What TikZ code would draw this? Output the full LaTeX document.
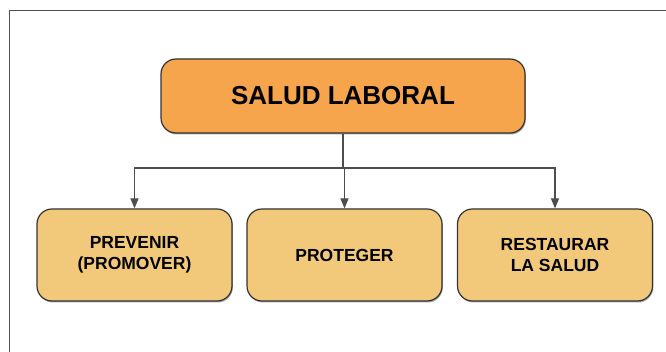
\documentclass[tikz,border=0pt]{standalone}
\usepackage{fontspec}
\setmainfont{Liberation Sans}
\usetikzlibrary{positioning, arrows.meta, shadows}
\definecolor{ink}{HTML}{333333}
\definecolor{wire}{HTML}{4d4d4d}
\definecolor{naranja}{HTML}{F6A54D}
\definecolor{arena}{HTML}{F2C97B}

\begin{document}
\begin{tikzpicture}[x=1pt, y=-1pt,
  caja/.style={draw=ink, line width=1.2pt, rounded corners=15pt, align=center,
    inner sep=0pt, font=\bfseries\fontsize{17.5}{21}\selectfont,
    drop shadow={shadow xshift=0.8pt, shadow yshift=-1.5pt, opacity=0.35, fill=black}},
  arr/.style={-{Triangle[length=10pt, width=8pt]}, line width=1.2pt, wire}
]
  \useasboundingbox (0,0) rectangle (666,352);
  \draw[line width=1pt, wire] (9,352) -- (9,11) -- (666,11);

  \node[caja, fill=naranja, minimum width=364pt, minimum height=74pt,
        font=\bfseries\fontsize{26}{30}\selectfont] (top) at (343,96) {SALUD LABORAL};
  \node[caja, fill=arena, minimum width=195pt, minimum height=92pt] (prev) at (134.5,255) {PREVENIR\\(PROMOVER)};
  \node[caja, fill=arena, minimum width=195pt, minimum height=92pt] (prot) at (344.5,255) {PROTEGER};
  \node[caja, fill=arena, minimum width=195pt, minimum height=92pt] (rest) at (555,255) {RESTAURAR\\LA SALUD};

  \coordinate (bus) at (top.south |- 0,168);
  \draw[line width=1.2pt, wire] (top.south) -- (bus);
  \foreach \b in {prev, prot, rest} \draw[arr] (bus) -| (\b.north);
\end{tikzpicture}
\end{document}
